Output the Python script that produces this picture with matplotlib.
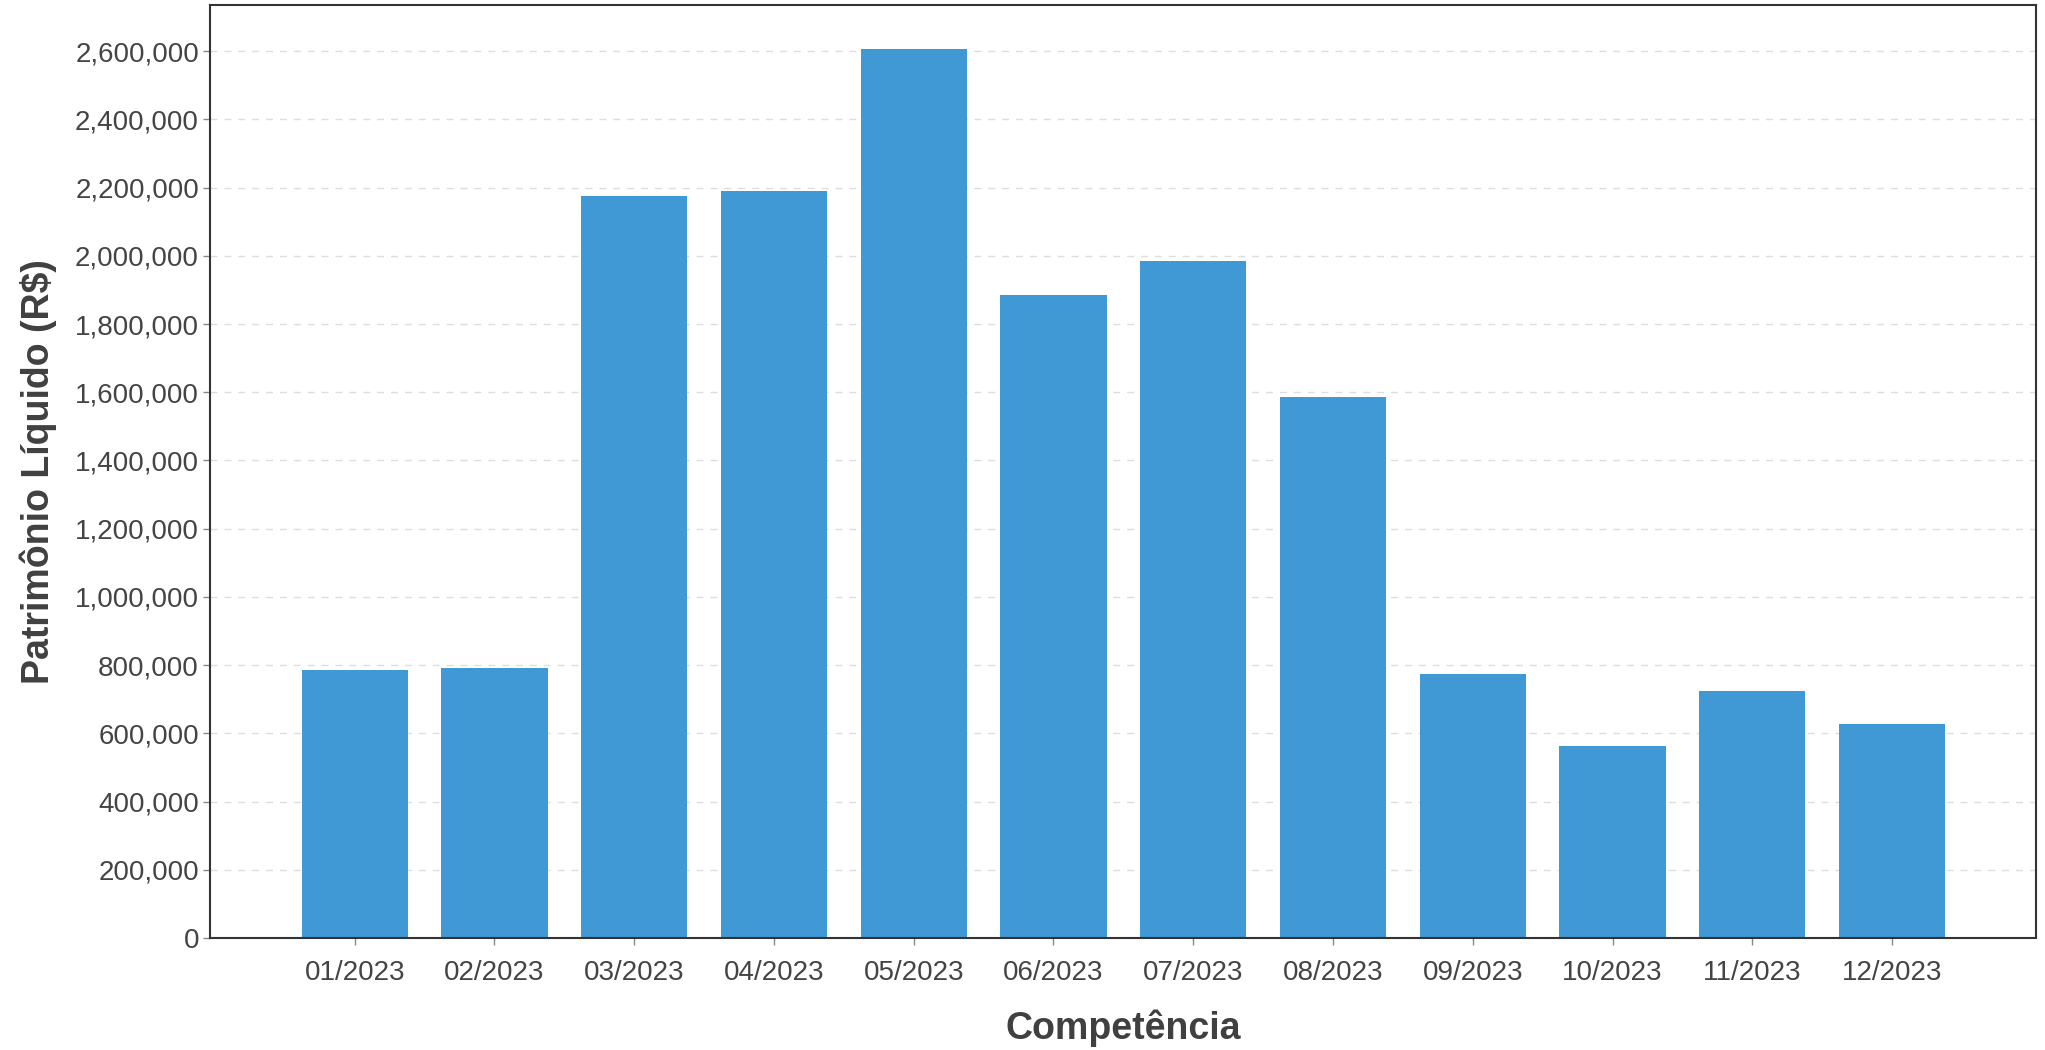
import matplotlib
matplotlib.use("Agg")
import matplotlib.pyplot as plt
from matplotlib.ticker import FuncFormatter

# Dados
competencias = ["01/2023", "02/2023", "03/2023", "04/2023", "05/2023", "06/2023",
                "07/2023", "08/2023", "09/2023", "10/2023", "11/2023", "12/2023"]
patrimonio = [786000, 792000, 2174000, 2191000, 2605000, 1884000,
              1986000, 1585000, 775000, 564000, 725000, 628000]

plt.rcParams['font.family'] = ['Liberation Sans', 'DejaVu Sans']

fig = plt.figure(figsize=(20.45, 10.5), dpi=100)
ax = fig.add_axes([210 / 2045, 1 - 938 / 1050, (2036 - 210) / 2045, (938 - 5) / 1050])

x = range(len(competencias))
ax.bar(x, patrimonio, width=0.76, color='#4098d4', zorder=2)

ax.set_xlim(-1.035, 12.03)
ax.set_ylim(0, max(patrimonio) * 1.05)
ax.set_yticks(range(0, 2600001, 200000))
ax.yaxis.set_major_formatter(FuncFormatter(lambda v, p: f"{int(v):,}"))
ax.set_xticks(list(x))
ax.set_xticklabels(competencias)

ax.grid(axis='y', linestyle=(0, (5, 5)), color='#dddddd', linewidth=1.0, zorder=0)
ax.tick_params(axis='both', labelsize=20, colors='#888888', labelcolor='#444444',
               length=5, width=1)
ax.tick_params(axis='x', pad=11)
ax.tick_params(axis='y', pad=3)

for s in ax.spines.values():
    s.set_color('#333333')
    s.set_linewidth(1.5)

ax.set_xlabel("Competência", fontsize=27, fontweight='bold', color='#404040', labelpad=17)
ax.set_ylabel("Patrimônio Líquido (R$)", fontsize=27, fontweight='bold', color='#404040', labelpad=13)

fig.savefig("out.png", dpi=100)
